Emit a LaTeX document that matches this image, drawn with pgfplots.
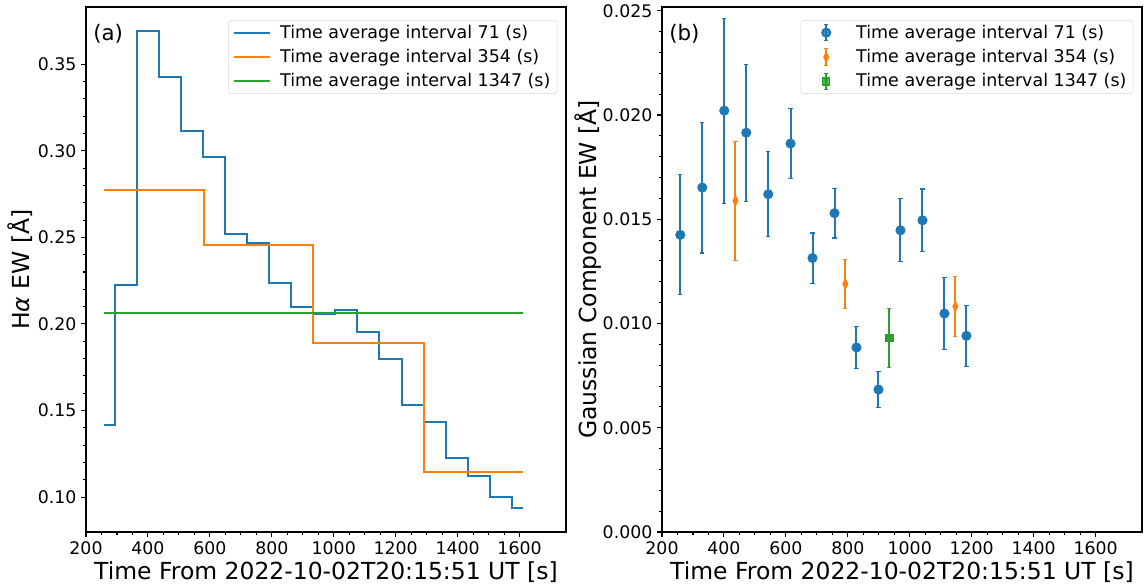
\documentclass[border=0pt]{standalone}
\usepackage{pgfplots}
\pgfplotsset{compat=1.18}
\usepackage{fontspec}
\setmainfont{DejaVu Sans}

\definecolor{tabblue}{HTML}{1F77B4}
\definecolor{taborange}{HTML}{FF7F0E}
\definecolor{tabgreen}{HTML}{2CA02C}

\pgfplotsset{
  panel/.style={
    scale only axis,
    width=360pt, height=393.75pt,
    xmin=200, xmax=1750,
    xtick={200,400,...,1600},
    minor x tick num=3,
    minor y tick num=4,
    tick pos=left,
    tick align=outside,
    major tick length=3.7pt,
    minor tick length=2.1pt,
    every tick/.style={black, line width=0.8pt},
    axis line style={line width=0.8pt},
    scaled ticks=false,
    /pgf/number format/assume math mode=true,
    tick label style={font=\fontsize{13}{15}\selectfont},
    xticklabel style={/pgf/number format/1000 sep={}},
    label style={font=\fontsize{17.6}{21}\selectfont},
    xlabel={Time From 2022-10-02T20:15:51 UT [s]},
    xlabel style={at={(axis description cs:0.5,-0.0756)}, anchor=center},
    legend cell align=left,
    legend style={
      at={(0.982,0.975)}, anchor=north east,
      draw=black!15, rounded corners=2pt,
      fill=white, fill opacity=0.8, text opacity=1,
      font=\fontsize{13.1}{15}\selectfont,
      inner xsep=3pt, inner ysep=1.5pt, row sep=2.8pt,
    },
  },
  % vertical error segments: low/high pairs, nan breaks the line
  ebar/.style={
    forget plot, line width=1.5pt, unbounded coords=jump,
    mark=-, mark size=1.6pt, mark options={line width=0.8pt},
  },
}

\begin{document}
\begin{tikzpicture}
\useasboundingbox (0,0) rectangle (858pt,441pt);

% (a) step curves
\begin{axis}[
  panel,
  at={(64.5pt,42pt)}, anchor=south west,
  ymin=0.0798, ymax=0.3831,
  ytick={0.10,0.15,...,0.36},
  yticklabel style={/pgf/number format/fixed, /pgf/number format/fixed zerofill, /pgf/number format/precision=2},
  ylabel={H{\itshape α} EW [Å]},
  ylabel style={at={(axis description cs:-0.138,0.5)}, anchor=center},
  legend image code/.code={
    \draw[#1] (0pt,0pt) -- (27pt,0pt);
    \draw[draw=none] (27pt,0pt) -- (33pt,0pt);
  },
]
\addplot[const plot, tabblue, line width=1.5pt] coordinates {
  (259,0.1416) (294.5,0.2225) (365.6,0.3692) (436.7,0.3425) (507.8,0.3116)
  (578.9,0.2966) (650,0.2519) (721.1,0.2465) (792.2,0.2236) (863.3,0.2099)
  (934.4,0.2060) (1005.5,0.2079) (1076.6,0.1953) (1147.7,0.1795) (1218.8,0.1533)
  (1289.9,0.1432) (1361,0.1225) (1432.1,0.1123) (1503.2,0.0998) (1574.3,0.0935)
  (1610,0.0935)
};
\addlegendentry{Time average interval 71 (s)}
\addplot[const plot, taborange, line width=1.5pt] coordinates {
  (259,0.2772) (580,0.2455) (934,0.1887) (1290,0.1143) (1610,0.1143)
};
\addlegendentry{Time average interval 354 (s)}
\addplot[const plot, tabgreen, line width=1.5pt] coordinates {
  (259,0.2065) (1610,0.2065)
};
\addlegendentry{Time average interval 1347 (s)}
\node[anchor=west, inner sep=0pt, font=\fontsize{16}{19}\selectfont] at (rel axis cs:0.0146,0.9486) {(a)};
\end{axis}

% (b) gaussian component with error bars
\begin{axis}[
  panel,
  at={(496.5pt,42pt)}, anchor=south west,
  ymin=0, ymax=0.02518,
  ytick={0,0.005,0.010,0.015,0.020,0.025},
  yticklabel style={/pgf/number format/fixed, /pgf/number format/fixed zerofill, /pgf/number format/precision=3},
  ylabel={Gaussian Component EW [Å]},
  ylabel style={at={(axis description cs:-0.154,0.5)}, anchor=center},
  legend image code/.code={
    \draw[draw=none] (0pt,0pt) -- (36.5pt,0pt);
    \draw[#1, mark=none, line width=1.5pt] (16pt,-6.2pt) -- (16pt,6.2pt);
    \draw[#1, mark=none, line width=0.8pt] (14.5pt,-6.2pt) -- (17.5pt,-6.2pt) (14.5pt,6.2pt) -- (17.5pt,6.2pt);
    \draw[#1] plot coordinates {(16pt,0pt)};
  },
]
% error bars (y - err, y + err)
\addplot[ebar, draw=tabblue, color=tabblue] coordinates {
  (259,0.01137) (259,0.01713) (259,nan)
  (330,0.01338) (330,0.01966) (330,nan)
  (401,0.01577) (401,0.02465) (401,nan)
  (472,0.01587) (472,0.02243) (472,nan)
  (543,0.01416) (543,0.01824) (543,nan)
  (615,0.01694) (615,0.02032) (615,nan)
  (686,0.01194) (686,0.01434) (686,nan)
  (757,0.01410) (757,0.01648) (757,nan)
  (828,0.00783) (828,0.00987) (828,nan)
  (899,0.00595) (899,0.00771) (899,nan)
  (970,0.01296) (970,0.01598) (970,nan)
  (1041,0.01345) (1041,0.01645) (1041,nan)
  (1112,0.00874) (1112,0.01222) (1112,nan)
  (1183,0.00794) (1183,0.01088)
};
\addplot[ebar, draw=taborange, color=taborange] coordinates {
  (437,0.01304) (437,0.01874) (437,nan)
  (792,0.01073) (792,0.01307) (792,nan)
  (1147,0.00939) (1147,0.01225)
};
\addplot[ebar, draw=tabgreen, color=tabgreen] coordinates {
  (934,0.00791) (934,0.01071)
};
% central values
\addplot[only marks, tabblue, line width=1.5pt, mark=*, mark size=3pt] coordinates {
  (259,0.01425) (330,0.01652) (401,0.02021) (472,0.01915) (543,0.01620)
  (615,0.01863) (686,0.01314) (757,0.01529) (828,0.00885) (899,0.00683)
  (970,0.01447) (1041,0.01495) (1112,0.01048) (1183,0.00941)
};
\addlegendentry{Time average interval 71 (s)}
\addplot[only marks, taborange, line width=1.1pt, mark=diamond*, mark size=3.4pt,
  mark options={xscale=0.66}] coordinates {
  (437,0.01589) (792,0.01190) (1147,0.01082)
};
\addlegendentry{Time average interval 354 (s)}
\addplot[only marks, tabgreen, line width=1.1pt, mark=square*, mark size=2.6pt] coordinates {
  (934,0.00931)
};
\addlegendentry{Time average interval 1347 (s)}
\node[anchor=west, inner sep=0pt, font=\fontsize{16}{19}\selectfont] at (rel axis cs:0.0146,0.9486) {(b)};
\end{axis}
\end{tikzpicture}
\end{document}
